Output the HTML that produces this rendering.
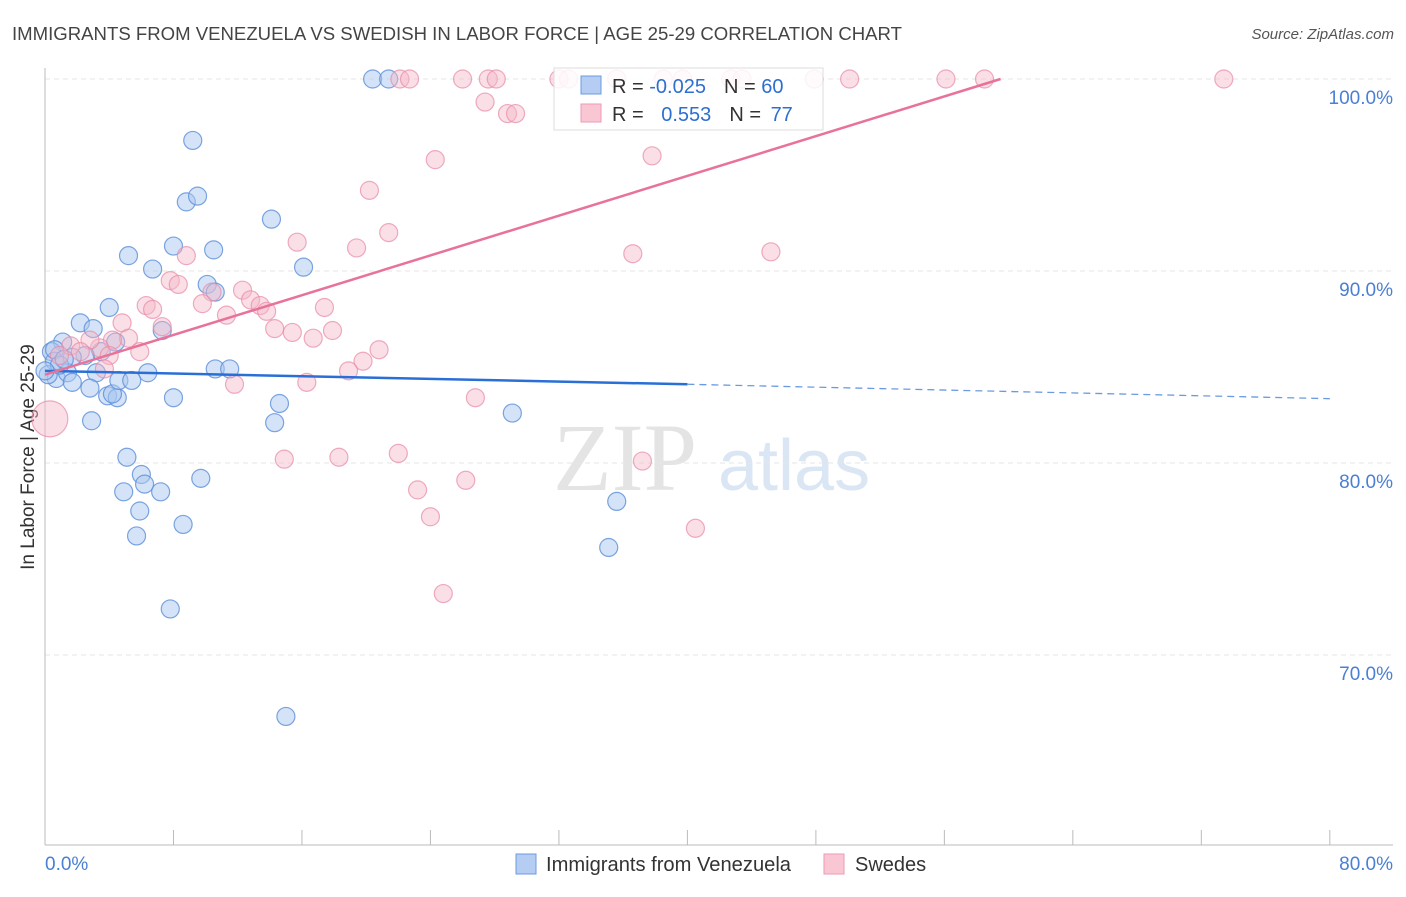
<!DOCTYPE html>
<html><head><meta charset="utf-8"><style>
body{margin:0;background:#fff;font-family:"Liberation Sans",sans-serif}
</style></head><body>
<svg id="chart" width="1406" height="892" xmlns="http://www.w3.org/2000/svg" font-family="Liberation Sans, sans-serif">
<text x="12" y="40" font-size="18" fill="#444" textLength="890" lengthAdjust="spacingAndGlyphs">IMMIGRANTS FROM VENEZUELA VS SWEDISH IN LABOR FORCE | AGE 25-29 CORRELATION CHART</text>
<text x="1394" y="39" font-size="15" fill="#555" text-anchor="end" font-style="italic">Source: ZipAtlas.com</text>
<g>
<text x="553" y="490" font-size="96" fill="#e4e4e4" font-family="Liberation Serif, serif">ZIP</text>
<text x="718" y="490" font-size="72" fill="#dbe6f5">atlas</text>
</g>
<g id="grid"></g>
<g id="axes"></g>
<g id="pts"></g>
<g id="trends"></g>
<g>
<rect x="554" y="68" width="269" height="62" fill="#fff" fill-opacity="0.85" stroke="#ddd"/>
<rect x="581" y="76" width="20" height="18" fill="#b5cdf3" stroke="#6a9be0"/>
<rect x="581" y="104" width="20" height="18" fill="#f9c6d4" stroke="#ee9ab3"/>
<text x="612" y="93" font-size="20" fill="#333">R = <tspan fill="#2d6fd0">-0.025</tspan><tspan dx="18">N = </tspan><tspan fill="#2d6fd0">60</tspan></text>
<text x="612" y="121" font-size="20" fill="#333">R = <tspan fill="#2d6fd0" dx="12">0.553</tspan><tspan dx="18">N = </tspan><tspan fill="#2d6fd0" dx="4">77</tspan></text>
</g>
<g>
<rect x="516" y="854" width="20" height="20" fill="#b5cdf3" stroke="#6a9be0"/>
<text x="546" y="871" font-size="20" fill="#333" textLength="245" lengthAdjust="spacingAndGlyphs">Immigrants from Venezuela</text>
<rect x="824" y="854" width="20" height="20" fill="#f9c6d4" stroke="#ee9ab3"/>
<text x="855" y="871" font-size="20" fill="#333">Swedes</text>
</g>
</svg>
<script>
const yTicks=[100,90,80,70];
const yTickLabels=["100.0%","90.0%","80.0%","70.0%"];
const xTicks=[0,8,16,24,32,40,48,56,64,72,80];
const blueX=[20.4,21.4,9.2,8.8,9.5,14.1,5.2,8.0,10.5,6.7,16.1,10.1,10.6,4.0,2.2,3.0,7.3,1.1,4.4,3.5,2.5,1.7,0.4,0.6,0.7,1.4,1.7,3.2,6.4,10.6,11.5,2.8,3.9,4.5,4.2,4.6,5.4,8.0,14.6,14.3,2.9,29.1,5.1,6.0,6.2,7.2,4.9,9.7,5.9,8.6,5.7,7.8,15.0,35.6,35.1,0.2,0.6,0.9,0.0,1.2];
const blueY=[100,100,96.8,93.6,93.9,92.7,90.8,91.3,91.1,90.1,90.2,89.3,88.9,88.1,87.3,87.0,86.9,86.3,86.3,85.8,85.6,85.5,85.8,85.3,84.4,84.7,84.2,84.7,84.7,84.9,84.9,83.9,83.5,83.4,83.6,84.3,84.3,83.4,83.1,82.1,82.2,82.6,80.3,79.4,78.9,78.5,78.5,79.2,77.5,76.8,76.2,72.4,66.8,78.0,75.6,84.6,85.9,85.1,84.8,85.4];
const pinkX=[22.1,22.7,26.0,27.6,28.1,32.0,32.6,35.6,38.5,39.7,42.7,43.4,47.9,50.1,56.1,58.5,73.4,27.4,28.8,29.3,24.3,37.8,20.2,21.4,15.7,19.4,8.8,36.6,45.2,7.8,8.3,12.3,10.4,12.8,13.4,13.8,17.4,9.8,11.3,6.3,6.7,4.8,7.3,14.3,15.4,16.7,17.9,20.8,19.8,18.9,5.2,4.2,3.4,2.8,1.6,2.2,0.9,4.0,5.9,3.7,11.8,16.3,26.8,0.3,14.9,18.3,22.0,26.2,23.2,24.0,37.2,40.5,24.8];
const pinkY=[100,100,100,100,100,100,100,100,100,100,100,100,100,100,100,100,100,98.8,98.2,98.2,95.8,96.0,94.2,92.0,91.5,91.2,90.8,90.9,91.0,89.5,89.3,89.0,88.9,88.5,88.2,87.9,88.1,88.3,87.7,88.2,88.0,87.3,87.1,87.0,86.8,86.5,86.9,85.9,85.3,84.8,86.5,86.4,86.0,86.4,86.1,85.8,85.6,85.6,85.8,84.9,84.1,84.2,83.4,82.3,80.2,80.3,80.5,79.1,78.6,77.2,80.1,76.6,73.2];
const pinkBig=[63];
const blueTrend=[[0,84.8],[40,84.1]];
const blueTrendDash=[[40,84.1],[80,83.35]];
const pinkTrend=[[0,84.6],[59.5,100]];
const NS="http://www.w3.org/2000/svg";
const sx=v=>45+v*16.06;
const sy=v=>79+(100-v)*19.2;
function mk(t,a,p){const e=document.createElementNS(NS,t);for(const k in a)e.setAttribute(k,a[k]);p.appendChild(e);return e;}
const grid=document.getElementById('grid'),axes=document.getElementById('axes');
yTicks.forEach((t,i)=>{
 mk('line',{x1:45,x2:1393,y1:sy(t),y2:sy(t),stroke:'#e6e6e6','stroke-dasharray':'5,4'},grid);
 const tx=mk('text',{x:1393,y:sy(t)+25,'font-size':19,fill:'#4a7fd4','text-anchor':'end'},axes);
 tx.textContent=yTickLabels[i];
 
 
});
mk('line',{x1:45,x2:45,y1:68,y2:845,stroke:'#bbb'},axes);
mk('line',{x1:45,x2:1393,y1:845,y2:845,stroke:'#bbb'},axes);
xTicks.forEach(t=>{mk('line',{x1:sx(t),x2:sx(t),y1:830,y2:845,stroke:'#bbb'},axes);});
const xl0=mk('text',{x:45,y:870,'font-size':19,fill:'#4a7fd4'},axes);xl0.textContent='0.0%';


const xl1=mk('text',{x:1393,y:870,'font-size':19,fill:'#4a7fd4','text-anchor':'end'},axes);xl1.textContent='80.0%';


const yt=mk('text',{x:0,y:0,'font-size':19,fill:'#333','text-anchor':'middle',transform:'translate(34,457) rotate(-90)'},axes);yt.textContent='In Labor Force | Age 25-29';


const pts=document.getElementById('pts');
blueX.forEach((x,i)=>{const c=mk('circle',{cx:sx(x),cy:sy(blueY[i]),r:9,fill:'#a9c8f0','fill-opacity':0.5,stroke:'#5b8fd8','stroke-opacity':0.8,'stroke-width':1.2},pts);
 
 });
pinkX.forEach((x,i)=>{const c=mk('circle',{cx:sx(x),cy:sy(pinkY[i]),r:pinkBig.includes(i)?18:9,fill:'#f5b8c8','fill-opacity':0.45,stroke:'#e889a6','stroke-opacity':0.7,'stroke-width':1.2},pts);
 
 });
const tr=document.getElementById('trends');
const l1=mk('line',{x1:sx(blueTrend[0][0]),y1:sy(blueTrend[0][1]),x2:sx(blueTrend[1][0]),y2:sy(blueTrend[1][1]),stroke:'#2a6fd6','stroke-width':2.5},tr);


const l2=mk('line',{x1:sx(blueTrendDash[0][0]),y1:sy(blueTrendDash[0][1]),x2:sx(blueTrendDash[1][0]),y2:sy(blueTrendDash[1][1]),stroke:'#6a9be0','stroke-width':1.3,'stroke-dasharray':'7,5'},tr);


const l3=mk('line',{x1:sx(pinkTrend[0][0]),y1:sy(pinkTrend[0][1]),x2:sx(pinkTrend[1][0]),y2:sy(pinkTrend[1][1]),stroke:'#e8729a','stroke-width':2.5},tr);


</script>
</body></html>
